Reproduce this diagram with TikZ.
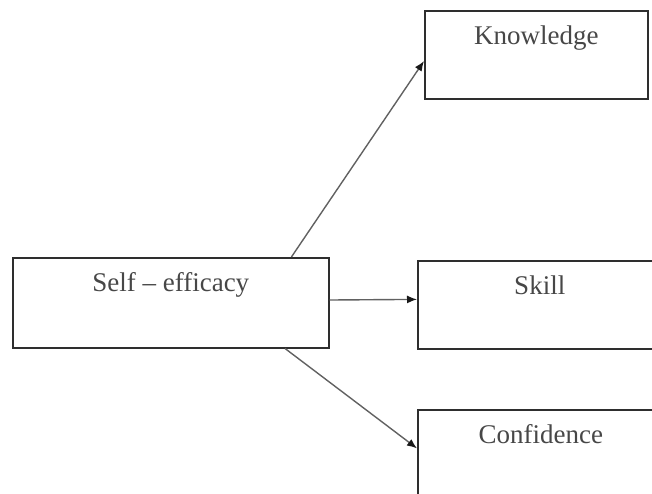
\documentclass[tikz,border=0pt]{standalone}
\usepackage{fontspec}
\setmainfont{Liberation Serif}
\usetikzlibrary{calc,arrows.meta}
\begin{document}
\begin{tikzpicture}[x=1pt,y=-1pt,
  box/.style={draw=black!82, line width=1.5pt, rectangle, inner sep=0pt,
    anchor=north west, text height=34pt,
    font=\fontsize{27}{32}\selectfont, text=black!72},
  link/.style={draw=black!62, line width=1.4pt,
    -{Latex[length=10pt,width=8pt,color=black!90]}}]
\useasboundingbox (0,0) rectangle (652,493);
\clip (0,0) rectangle (652,493);

% source box
\node[box, minimum width=316pt, text depth=56pt] (self) at (12,257) {Self -- efficacy};

% outcome boxes (the two lower ones run past the right edge)
\node[box, minimum width=223pt, text depth=54pt] (know) at (424,10) {Knowledge};
\node[box, minimum width=244pt, text depth=54pt] (skill) at (417,260) {Skill};
\node[box, minimum width=246pt, text depth=54pt] (conf) at (417,409) {Confidence};

% connectors
\draw[link] ($(self.north west)!0.88!(self.north east)$) -- ($(know.north west)!0.57!(know.south west)$);
\draw[link] ($(self.north east)!0.47!(self.south east)$) -- ($(skill.north west)!0.44!(skill.south west)$);
\draw[link] ($(self.south west)!0.86!(self.south east)$) -- ($(conf.north west)!0.44!(conf.south west)$);
\end{tikzpicture}
\end{document}
